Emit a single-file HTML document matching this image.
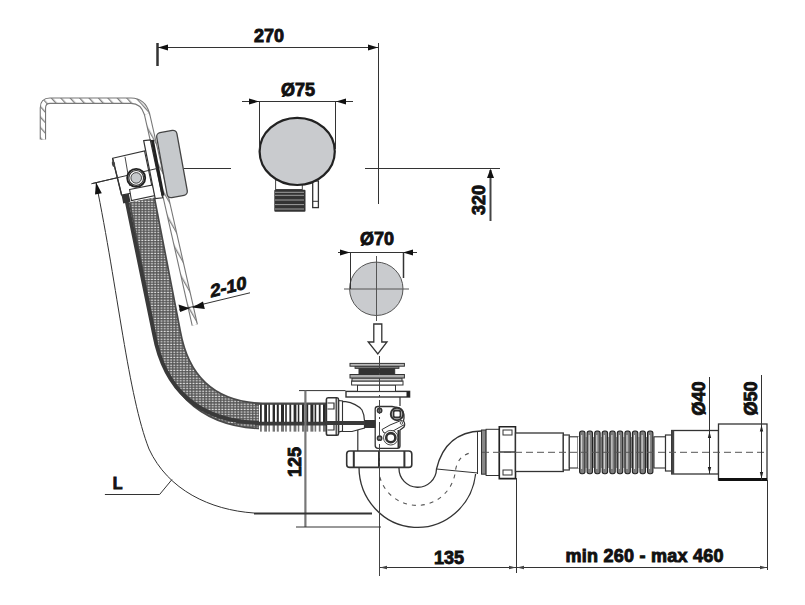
<!DOCTYPE html>
<html><head><meta charset="utf-8">
<style>
html,body{margin:0;padding:0;background:#fff;width:805px;height:605px;overflow:hidden}
svg{display:block}
text{font-family:"Liberation Sans",sans-serif;font-weight:bold;fill:#111;stroke:#111;stroke-width:0.9}
</style></head><body>
<svg width="805" height="605" viewBox="0 0 805 605">
<defs>
<pattern id="hatch" patternUnits="userSpaceOnUse" width="9" height="9" patternTransform="rotate(-30)">
<rect width="9" height="9" fill="#fff"/><rect x="0" y="0" width="1.3" height="9" fill="#808080"/>
</pattern>
<pattern id="hatch2" patternUnits="userSpaceOnUse" width="7" height="7" patternTransform="rotate(-42)">
<rect width="7" height="7" fill="#fff"/><rect x="0" y="0" width="1.3" height="7" fill="#808080"/>
</pattern>
<pattern id="hosepat" patternUnits="userSpaceOnUse" width="3.2" height="2.6">
<rect width="3.2" height="2.6" fill="#555"/><rect x="0.5" y="0.6" width="2.0" height="1.2" fill="#dcdcdc"/>
</pattern>
</defs>

<path d="M42.9,139.6 L42.9,108 Q42.9,100.7 50,100.7 L131,100.7 Q143,100.7 147,114 L194.8,325" fill="none" stroke="#777" stroke-width="6.4"/>
<path d="M42.9,139.6 L42.9,108 Q42.9,100.7 50,100.7 L131,100.7 Q143,100.7 147,114" fill="none" stroke="url(#hatch2)" stroke-width="4.2"/>
<path d="M147,114 L194.8,325" fill="none" stroke="url(#hatch)" stroke-width="4.2"/>
<rect x="-10.25" y="-33" width="20.5" height="66" rx="4" transform="translate(172,164) rotate(-10.3)" fill="#c6c9cc" stroke="#444" stroke-width="1.3"/>
<line x1="91.6" y1="183.7" x2="157" y2="168.5" stroke="#333" stroke-width="1"/>
<g stroke="#333" stroke-width="1.1" fill="#fff">
<polygon points="112.6,158.3 144.5,151 152.5,189 121.6,195"/>
<path d="M112.6,158.3 L121.6,195" stroke-width="1.3"/>
<ellipse cx="113.5" cy="164" rx="1.6" ry="3" fill="#444" stroke="none" transform="rotate(-12 113.5 164)"/>
<path d="M125,156.8 L130,186" stroke-width="0.9"/>
<polygon points="129.6,189.5 152.8,185 155,195.5 131.5,200.5"/>
<polygon points="143.7,140.7 150.3,139.9 162.7,197.8 155.2,198.6" stroke-width="1.2"/>
<polygon points="150.8,140 153.8,139.8 164.5,195.5 161.5,195.8" fill="#222" stroke="none"/>
<line x1="91.6" y1="183.7" x2="157" y2="168.5" stroke="#333" stroke-width="1"/>
<circle cx="136.2" cy="177.9" r="9" stroke-width="1.9" stroke="#222"/>
<circle cx="136.2" cy="177.9" r="7.4" stroke-width="1.2" stroke="#333" fill="#fff"/>
<circle cx="136.2" cy="177.9" r="5.3" fill="#c6c9cc" stroke="#333" stroke-width="0.9"/>
</g>
<path d="M142,200 L168,334 C176,378 202,414 262,416 L330,416" fill="none" stroke="#4a4a4a" stroke-width="27"/>
<path d="M142,200 L168,334 C176,378 202,414 262,416 L330,416" fill="none" stroke="url(#hosepat)" stroke-width="23.5"/>
<path d="M126,198 L154,334 C163,382 191,422 262,423 L369,423" fill="none" stroke="#3a3a3a" stroke-width="3.8"/>
<rect x="122.2" y="194.5" width="7.4" height="8.2" fill="#333" transform="rotate(-12 126 198)"/>
<rect x="259" y="404" width="68" height="27.5" fill="#fff"/>
<g fill="#2a2a2a"><rect x="260.0" y="404" width="1.8" height="27.5"/><rect x="264.2" y="404" width="2.8" height="27.5"/><rect x="268.4" y="404" width="1.5" height="27.5"/><rect x="272.6" y="404" width="2.4" height="27.5"/><rect x="276.8" y="404" width="2.0" height="27.5"/><rect x="281.0" y="404" width="3.0" height="27.5"/><rect x="285.2" y="404" width="1.6" height="27.5"/><rect x="289.4" y="404" width="1.8" height="27.5"/><rect x="293.6" y="404" width="2.8" height="27.5"/><rect x="297.8" y="404" width="1.5" height="27.5"/><rect x="302.0" y="404" width="2.4" height="27.5"/><rect x="306.2" y="404" width="2.0" height="27.5"/><rect x="310.4" y="404" width="3.0" height="27.5"/><rect x="314.6" y="404" width="1.6" height="27.5"/><rect x="318.8" y="404" width="1.8" height="27.5"/><rect x="323.0" y="404" width="2.8" height="27.5"/></g>
<rect x="259" y="425" width="68" height="6.5" fill="#fff" opacity="0.35"/>
<line x1="255" y1="404.3" x2="327" y2="404.3" stroke="#444" stroke-width="1"/>
<line x1="255" y1="423.6" x2="330" y2="423.6" stroke="#3a3a3a" stroke-width="3.6"/>
<rect x="275.6" y="180" width="26.7" height="9.5" fill="#fff" stroke="#444" stroke-width="1"/>
<rect x="274.3" y="189.8" width="31.2" height="22" rx="1" fill="#333"/>
<g stroke="#aaa" stroke-width="0.9"><line x1="275" y1="192.3" x2="304" y2="192.3"/><line x1="275" y1="195.3" x2="304" y2="195.3"/><line x1="275" y1="200" x2="304" y2="200"/><line x1="275" y1="204.6" x2="304" y2="204.6"/><line x1="275" y1="209" x2="304" y2="209"/></g>
<rect x="312.7" y="181" width="5.7" height="26.6" fill="#fff" stroke="#333" stroke-width="1.3"/><line x1="313" y1="201.3" x2="318" y2="201.3" stroke="#333" stroke-width="1"/>
<ellipse cx="297.2" cy="151.4" rx="37.6" ry="33.6" fill="#c9cbce" stroke="#222" stroke-width="2.2"/>
<circle cx="376.3" cy="288.8" r="26.7" fill="#c9cbce" stroke="#555" stroke-width="1"/>
<line x1="376.5" y1="256" x2="376.5" y2="321" stroke="#555" stroke-width="1"/>
<line x1="344" y1="289" x2="409" y2="289" stroke="#555" stroke-width="1"/>
<path d="M373.8,324 L381.8,324 L381.8,342 L387,342 L377.8,354 L368.2,342 L373.8,342 Z" fill="#fff" stroke="#333" stroke-width="1.3"/>
<g stroke="#333" stroke-width="1.2" fill="#fff">
<path d="M359,462 L359,467 A58.5,60.5 0 0 0 475.6,474 M399,462 L399,468 A18.5,18.5 0 0 0 436.5,469 C441,450 452,432 481.5,431" fill="none" stroke-width="1.3"/>
<path d="M436.5,469 L478,473" fill="none" stroke-width="1"/>
<line x1="477.5" y1="431" x2="477.5" y2="474" stroke-width="1"/>
<path d="M379.8,477 A38.6,38.6 0 0 0 455.5,470 Q458,456 470,453" fill="none" stroke="#555" stroke-width="1.1" stroke-dasharray="4 5"/>
<rect x="481.5" y="430" width="4.6" height="44.2" fill="#888" stroke="#333" stroke-width="1"/>
<rect x="486.1" y="429.3" width="13.2" height="46.2" fill="#fff" stroke="#333" stroke-width="1"/>
<path d="M499.3,426.7 L515.5,426.7 L515.5,478.6 L499.3,478.6 Z" fill="#fff" stroke="#222" stroke-width="1.6"/>
<line x1="499.3" y1="452" x2="515.5" y2="452" stroke-width="1.4"/>
<rect x="503" y="430" width="9" height="5" fill="#fff" stroke-width="1"/>
<rect x="503" y="470" width="9" height="5" fill="#fff" stroke-width="1"/>
<rect x="515.5" y="433" width="47.8" height="38.5" stroke-width="1.3"/>
<rect x="563.3" y="435" width="6" height="35" stroke-width="1.2"/>
<rect x="569.3" y="436.8" width="8.7" height="31.2" stroke-width="1.1"/>
<rect x="578" y="437" width="76" height="31" stroke="none"/>

<rect x="579.6" y="431" width="5.4" height="42.7" rx="2.2" fill="#7c7c7c" stroke="#222" stroke-width="1.1"/><line x1="581.7" y1="435" x2="581.7" y2="469" stroke="#e4e4e4" stroke-width="1"/><line x1="586.1" y1="437" x2="586.1" y2="468" stroke="#555" stroke-width="0.7"/><rect x="587.1" y="431" width="5.4" height="42.7" rx="2.2" fill="#7c7c7c" stroke="#222" stroke-width="1.1"/><line x1="589.2" y1="435" x2="589.2" y2="469" stroke="#e4e4e4" stroke-width="1"/><line x1="593.6" y1="437" x2="593.6" y2="468" stroke="#555" stroke-width="0.7"/><rect x="594.7" y="431" width="5.4" height="42.7" rx="2.2" fill="#7c7c7c" stroke="#222" stroke-width="1.1"/><line x1="596.8" y1="435" x2="596.8" y2="469" stroke="#e4e4e4" stroke-width="1"/><line x1="601.2" y1="437" x2="601.2" y2="468" stroke="#555" stroke-width="0.7"/><rect x="602.2" y="431" width="5.4" height="42.7" rx="2.2" fill="#7c7c7c" stroke="#222" stroke-width="1.1"/><line x1="604.3" y1="435" x2="604.3" y2="469" stroke="#e4e4e4" stroke-width="1"/><line x1="608.7" y1="437" x2="608.7" y2="468" stroke="#555" stroke-width="0.7"/><rect x="609.8" y="431" width="5.4" height="42.7" rx="2.2" fill="#7c7c7c" stroke="#222" stroke-width="1.1"/><line x1="611.9" y1="435" x2="611.9" y2="469" stroke="#e4e4e4" stroke-width="1"/><line x1="616.3" y1="437" x2="616.3" y2="468" stroke="#555" stroke-width="0.7"/><rect x="617.3" y="431" width="5.4" height="42.7" rx="2.2" fill="#7c7c7c" stroke="#222" stroke-width="1.1"/><line x1="619.4" y1="435" x2="619.4" y2="469" stroke="#e4e4e4" stroke-width="1"/><line x1="623.8" y1="437" x2="623.8" y2="468" stroke="#555" stroke-width="0.7"/><rect x="624.9" y="431" width="5.4" height="42.7" rx="2.2" fill="#7c7c7c" stroke="#222" stroke-width="1.1"/><line x1="627.0" y1="435" x2="627.0" y2="469" stroke="#e4e4e4" stroke-width="1"/><line x1="631.4" y1="437" x2="631.4" y2="468" stroke="#555" stroke-width="0.7"/><rect x="632.4" y="431" width="5.4" height="42.7" rx="2.2" fill="#7c7c7c" stroke="#222" stroke-width="1.1"/><line x1="634.5" y1="435" x2="634.5" y2="469" stroke="#e4e4e4" stroke-width="1"/><line x1="638.9" y1="437" x2="638.9" y2="468" stroke="#555" stroke-width="0.7"/><rect x="640.0" y="431" width="5.4" height="42.7" rx="2.2" fill="#7c7c7c" stroke="#222" stroke-width="1.1"/><line x1="642.1" y1="435" x2="642.1" y2="469" stroke="#e4e4e4" stroke-width="1"/><line x1="646.5" y1="437" x2="646.5" y2="468" stroke="#555" stroke-width="0.7"/><rect x="647.5" y="431" width="5.4" height="42.7" rx="2.2" fill="#7c7c7c" stroke="#222" stroke-width="1.1"/><line x1="649.6" y1="435" x2="649.6" y2="469" stroke="#e4e4e4" stroke-width="1"/><line x1="654.0" y1="437" x2="654.0" y2="468" stroke="#555" stroke-width="0.7"/>
<rect x="654" y="436.8" width="11.5" height="31.2" stroke-width="1.1"/>
<rect x="665.5" y="435" width="6.2" height="36" stroke-width="1.2"/>
<rect x="671.7" y="430.5" width="46.8" height="43.5" stroke-width="1.3"/>
<rect x="671.7" y="430.5" width="2.5" height="43.5" fill="#444" stroke="none"/>
<rect x="718.5" y="424" width="48.5" height="56" stroke-width="1.3"/>
<rect x="718.5" y="478" width="48.5" height="3" fill="#111" stroke="none"/>
<line x1="482" y1="452.3" x2="767" y2="452.3" stroke="#555" stroke-width="1" stroke-dasharray="7 4"/>
<rect x="346.7" y="451" width="65.1" height="16.4" rx="3" stroke-width="1.6"/>
<line x1="353.8" y1="451" x2="353.8" y2="467.4" stroke-width="2"/>
<line x1="379" y1="451" x2="379" y2="467.4" stroke-width="2"/>
<line x1="404.4" y1="451" x2="404.4" y2="467.4" stroke-width="2"/>
<path d="M357.8,428 L357.8,451" fill="none"/>
<path d="M338.7,401.3 L345.7,401.6 C352,402.5 359,406 362,410 C364,414 364.5,418 364.5,421 L364.5,428 L352,431.5 L338.7,431.5 Z" fill="#fff"/>
<line x1="400" y1="397" x2="400" y2="406"/>
<path d="M375.2,409 Q375.2,406.5 378,406.5 L392,406.5 Q397,407 401,409 Q404.5,412 404,418 L403.5,421 Q405.5,424 404,427 L400,430 L400,446 Q400,448.3 397.5,448.3 L378,448.3 Q375.2,448.3 375.2,445.5 Z" fill="#fff" stroke-width="1.3"/>
<circle cx="379.6" cy="410.4" r="2.2" fill="#888" stroke-width="1.4"/>
<circle cx="379.6" cy="438.2" r="2.2" fill="#888" stroke-width="1.4"/>
<circle cx="397" cy="414" r="6.2" fill="#fff" stroke-width="2"/>
<rect x="393.5" y="410.5" width="7" height="7" rx="2" fill="#fff" stroke-width="1.8"/>
<path d="M382,429.5 L390,425 L401,420.5 Q405,421 404.5,424.5 L393,431 L384,433 Z" fill="#fff" stroke-width="1"/>
<circle cx="401.5" cy="423" r="1.3" fill="#fff" stroke-width="0.8"/>
<circle cx="390.8" cy="437.7" r="7.3" fill="#fff" stroke-width="0.9"/>
<circle cx="390.8" cy="437.7" r="4.6" fill="#fff" stroke-width="2.6"/>
<line x1="398.5" y1="430" x2="398.5" y2="448" stroke-width="2"/>
<rect x="364.5" y="420" width="11" height="8" fill="#333" stroke="none"/>
<rect x="346" y="391.4" width="63.6" height="5.6" stroke-width="1.4"/>
<rect x="406.5" y="391.4" width="3.1" height="5.6" fill="#222" stroke="none"/>
<rect x="357.5" y="385" width="38" height="6.4" stroke-width="1"/>
<rect x="351.6" y="381" width="51.4" height="4" stroke-width="1"/>
<rect x="352" y="378" width="50" height="3" fill="#ccc" stroke-width="1"/>
<rect x="350" y="374.5" width="54.4" height="3.5" fill="#aaa" stroke-width="1"/>
<rect x="359" y="368" width="35.7" height="6.5" fill="#333" stroke-width="1"/>
<rect x="355" y="366" width="44" height="2.4" fill="#777" stroke-width="0.8"/>
<rect x="350" y="363.4" width="54.4" height="2.8" fill="#bbb" stroke-width="1"/>
<path d="M338.5,400.5 L342.5,401 L342.5,431 L338.5,432 Z" fill="#fff" stroke-width="1.1"/>
<path d="M328,397.8 L337,397.8 Q338.5,397.8 338.5,399.5 L338.5,433.5 Q338.5,435.3 337,435.3 L328,435.3 Q326.4,435.3 326.4,433.5 L326.4,399.5 Q326.4,397.8 328,397.8 Z" fill="#fff" stroke-width="1.6"/>
<path d="M327.5,403 L334,403 L334,409 L327.5,409 M327.5,424 L334,424 L334,430 L327.5,430" fill="none" stroke-width="1.2"/>
<line x1="336.2" y1="398" x2="336.2" y2="435" stroke-width="1.3"/>
<line x1="326" y1="423" x2="365" y2="423" stroke="#3a3a3a" stroke-width="3.8"/>
</g>
<line x1="379.5" y1="356" x2="379.5" y2="576" stroke="#444" stroke-width="1" stroke-dasharray="14 3 2 3"/>
<line x1="379.5" y1="470" x2="379.5" y2="576" stroke="#444" stroke-width="1"/>
<g stroke="#333" stroke-width="1" fill="none">
<line x1="157.5" y1="43" x2="157.5" y2="66" stroke-width="2.5"/>
<line x1="158" y1="47.5" x2="378" y2="47.5"/>
<path d="M158,47.5L168,44.5L168,50.5z" fill="#111" stroke="none"/>
<path d="M378,47.5L368,44.5L368,50.5z" fill="#111" stroke="none"/>
<line x1="378.5" y1="43" x2="378.5" y2="204"/>
<line x1="365" y1="168.5" x2="500" y2="168.5"/>
<line x1="490.5" y1="170" x2="490.5" y2="221" stroke-width="2" stroke="#444"/>
<path d="M490.5,168.7L487,178L494,178z" fill="#111" stroke="none"/>
<line x1="184" y1="168.5" x2="231" y2="168.5"/>
<line x1="242" y1="101.5" x2="353" y2="101.5"/>
<path d="M259,101.5L249,98.5L249,104.5z" fill="#111" stroke="none"/>
<path d="M336,101.5L346,98.5L346,104.5z" fill="#111" stroke="none"/>
<line x1="259.5" y1="101" x2="259.5" y2="149"/>
<line x1="335.5" y1="101" x2="335.5" y2="149"/>
<line x1="338" y1="252.5" x2="417" y2="252.5"/>
<path d="M350,252.5L340,249.5L340,255.5z" fill="#111" stroke="none"/>
<path d="M403,252.5L413,249.5L413,255.5z" fill="#111" stroke="none"/>
<line x1="350.5" y1="252" x2="350.5" y2="289"/>
<line x1="403.5" y1="252" x2="403.5" y2="278" stroke-width="1.5"/>
<line x1="299" y1="390.6" x2="345.5" y2="390.6"/>
<line x1="305.4" y1="390.6" x2="305.4" y2="527" stroke-width="2.2" stroke="#777"/>
<line x1="296" y1="527" x2="381" y2="527"/>
<line x1="254" y1="513.5" x2="372" y2="513.5" stroke-width="2"/>
<line x1="516.5" y1="478" x2="516.5" y2="573"/>
<line x1="380" y1="567.5" x2="767" y2="567.5"/>
<line x1="767.5" y1="480" x2="767.5" y2="570"/>
<line x1="709.5" y1="377" x2="709.5" y2="474"/>
<line x1="761.5" y1="375" x2="761.5" y2="480"/>
<path d="M709.5,431.5L707.8,438L711.2,438z M709.5,473.5L707.8,467L711.2,467z M761.5,425L759.8,431.5L763.2,431.5z M761.5,478.5L759.8,472L763.2,472z" fill="#222" stroke="none"/>
<path d="M380,567.5L387,565.8L387,569.2z M516,567.5L509,565.8L509,569.2z M517,567.5L524,565.8L524,569.2z M767,567.5L760,565.8L760,569.2z" fill="#444" stroke="none"/>
<line x1="179" y1="310" x2="250" y2="292.8"/>
<path d="M189.8,308.2L178.5,304.5L180.2,312z" fill="#111" stroke="none"/>
<path d="M192,307.6L203,301.6L204.8,309z" fill="#111" stroke="none"/>
<path d="M96,182.5 C118,290 128,395 149,449 C168,490 210,510 254,513"/>
<path d="M96,182.3L101.8,193.2L95,194.6z" fill="#111" stroke="none"/>
<path d="M104.9,494.5 L159.6,494.5 L172,479.5"/>
</g>
<g>
<text x="269" y="42" font-size="18" text-anchor="middle">270</text>
<text x="298" y="96" font-size="18" text-anchor="middle">Ø75</text>
<text x="377" y="245" font-size="18" text-anchor="middle">Ø70</text>
<text x="449" y="563.5" font-size="18" text-anchor="middle">135</text>
<text x="565.6" y="562" font-size="18" textLength="157.8" lengthAdjust="spacing">min 260 - max 460</text>
<text x="117.6" y="489.4" font-size="16" text-anchor="middle">L</text>
<text transform="translate(485,200) rotate(-90)" font-size="18" text-anchor="middle">320</text>
<text transform="translate(301,462) rotate(-90)" font-size="18" text-anchor="middle">125</text>
<text transform="translate(704.5,398.5) rotate(-90)" font-size="18" text-anchor="middle">Ø40</text>
<text transform="translate(757,398.5) rotate(-90)" font-size="18" text-anchor="middle">Ø50</text>
<text transform="translate(228.5,293) skewY(-14)" font-size="18" text-anchor="middle">2-10</text>
</g>
</svg>
</body></html>
